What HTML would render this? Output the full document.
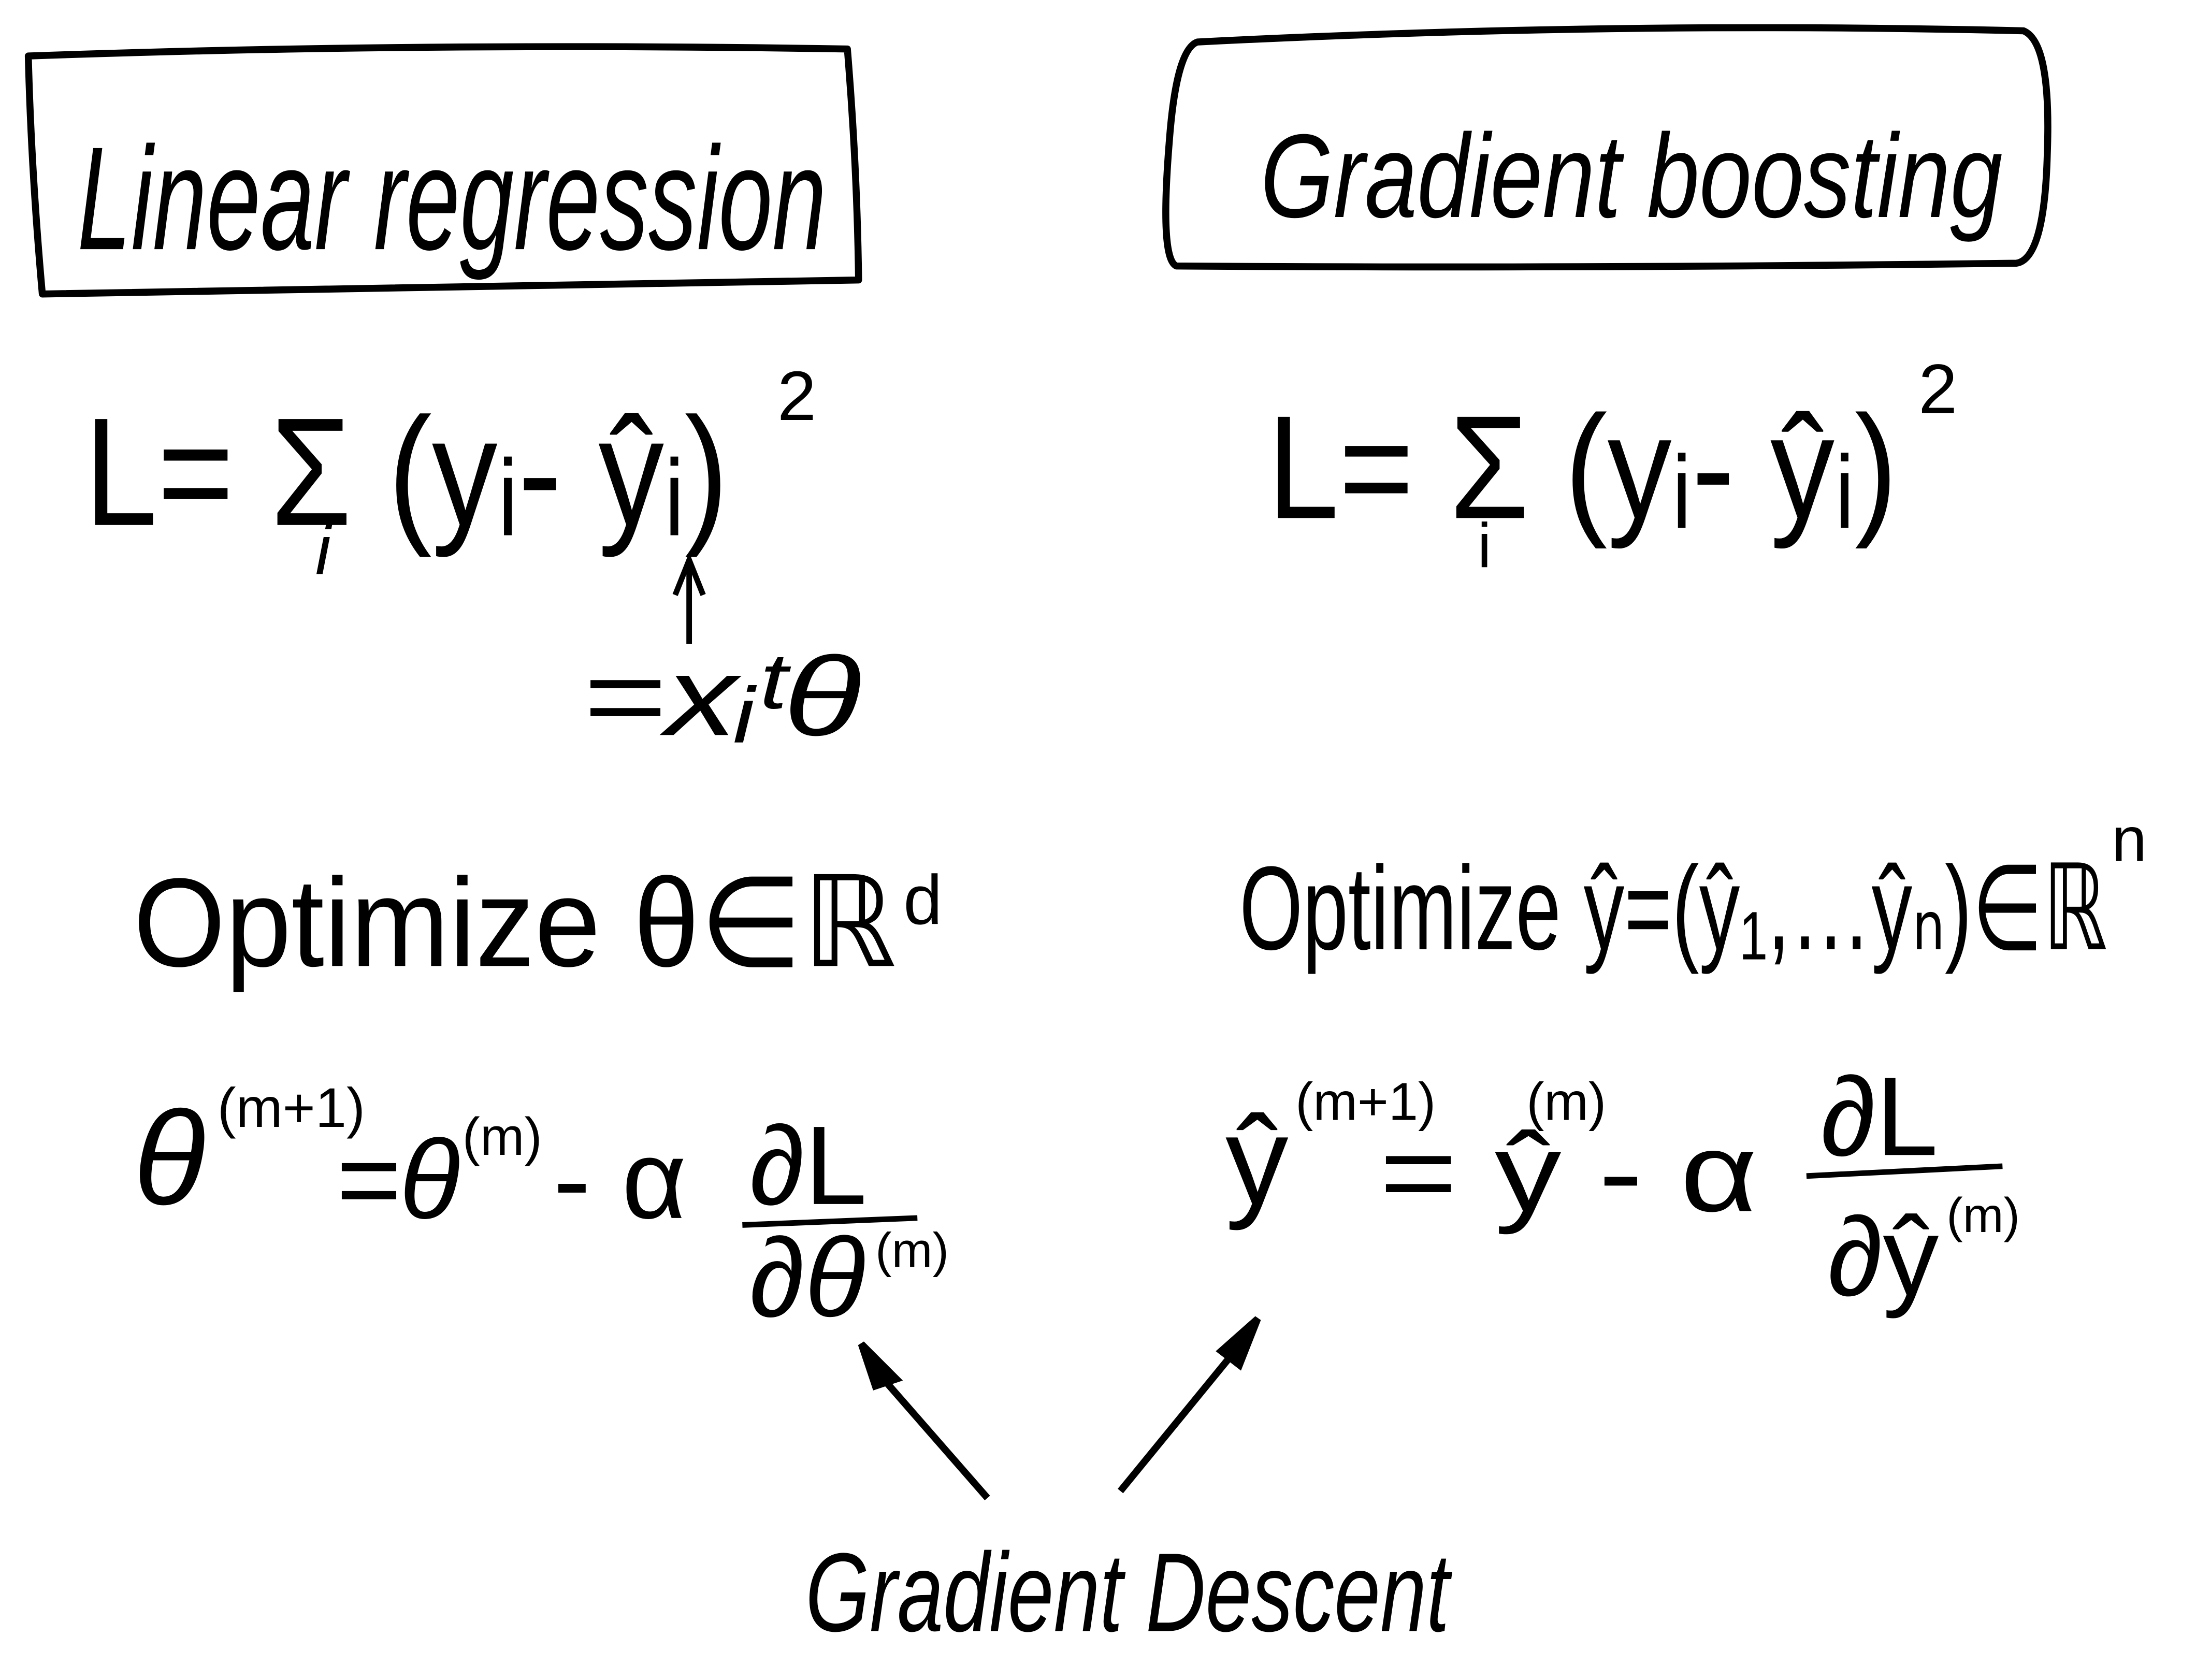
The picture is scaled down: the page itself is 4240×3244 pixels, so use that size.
<!DOCTYPE html>
<html><head><meta charset="utf-8"><style>
html,body{margin:0;padding:0;background:#fff;}
svg{display:block;}
text{font-family:"Liberation Sans","DejaVu Sans",sans-serif;fill:#000;}
</style></head><body>
<svg width="4240" height="3244" viewBox="0 0 1568 1200" xmlns="http://www.w3.org/2000/svg">
<rect width="1568" height="1200" fill="#fff"/>
<g>
<path d="M20 40 Q300 30 605 35 Q612 120 613 200 Q300 205 30 210 Q22 120 20 40 Z" fill="none" stroke="#000" stroke-width="5" stroke-linejoin="round"/>
<text x="55" y="178" font-size="105" textLength="535" lengthAdjust="spacingAndGlyphs" font-style="italic">Linear regression</text>
</g>
<g>
<path d="M855 30 Q1150 15 1445 22 Q1465 30 1462 110 Q1460 185 1440 188 Q1130 192 840 190 Q828 185 835 100 Q840 35 855 30 Z" fill="none" stroke="#000" stroke-width="5" stroke-linejoin="round"/>
<text x="900" y="155" font-size="85" textLength="530" lengthAdjust="spacingAndGlyphs" font-style="italic">Gradient boosting</text>
</g>
<g>
<text x="60" y="375" font-size="110" textLength="460" lengthAdjust="spacingAndGlyphs">L= Σ (yᵢ- ŷᵢ)</text>
<text x="555" y="300" font-size="50">2</text>
<text x="225" y="410" font-size="50" font-style="italic">i</text>
<path d="M492 460 L492 405 M482 425 L492 400 L502 425" fill="none" stroke="#000" stroke-width="4"/>
<text x="415" y="525" font-size="80" textLength="200" lengthAdjust="spacingAndGlyphs" font-style="italic">=xᵢᵗθ</text>
</g>
<g>
<text x="905" y="370" font-size="105" textLength="450" lengthAdjust="spacingAndGlyphs">L= Σ (yᵢ- ŷᵢ)</text>
<text x="1370" y="295" font-size="50">2</text>
<text x="1055" y="405" font-size="45">i</text>
</g>
<text x="95" y="690" font-size="90" textLength="545" lengthAdjust="spacingAndGlyphs">Optimize θ∈ℝ</text>
<text x="645" y="660" font-size="50">d</text>
<text x="885" y="678" font-size="85" textLength="620" lengthAdjust="spacingAndGlyphs">Optimize ŷ=(ŷ₁,…ŷₙ)∈ℝ</text>
<text x="1508" y="615" font-size="45">n</text>
<g>
<text x="95" y="860" font-size="95" font-style="italic">θ</text>
<text x="155" y="805" font-size="40">(m+1)</text>
<text x="240" y="870" font-size="80">=</text>
<text x="285" y="870" font-size="80" font-style="italic">θ</text>
<text x="330" y="825" font-size="38">(m)</text>
<text x="395" y="870" font-size="80">- α</text>
<text x="535" y="860" font-size="80">∂L</text>
<path d="M530 875 L655 870" stroke="#000" stroke-width="4"/>
<text x="535" y="940" font-size="80" font-style="italic">∂θ</text>
<text x="625" y="905" font-size="35">(m)</text>
</g>
<g>
<text x="875" y="860" font-size="90">ŷ</text>
<text x="925" y="800" font-size="38">(m+1)</text>
<text x="985" y="865" font-size="80" textLength="270" lengthAdjust="spacingAndGlyphs">= ŷ   - α</text>
<text x="1090" y="800" font-size="38">(m)</text>
<text x="1300" y="825" font-size="80">∂L</text>
<path d="M1290 840 L1430 833" stroke="#000" stroke-width="4"/>
<text x="1305" y="925" font-size="80">∂ŷ</text>
<text x="1390" y="880" font-size="35">(m)</text>
</g>
<g fill="none" stroke="#000" stroke-width="5">
<path d="M705 1070 L622 975"/>
<path d="M615 960 L640 985 L625 990 Z" fill="#000"/>
<path d="M800 1065 L890 955"/>
<path d="M898 942 L885 975 L872 965 Z" fill="#000"/>
</g>
<text x="575" y="1165" font-size="80" textLength="460" lengthAdjust="spacingAndGlyphs" font-style="italic">Gradient Descent</text>
</svg>
</body></html>
